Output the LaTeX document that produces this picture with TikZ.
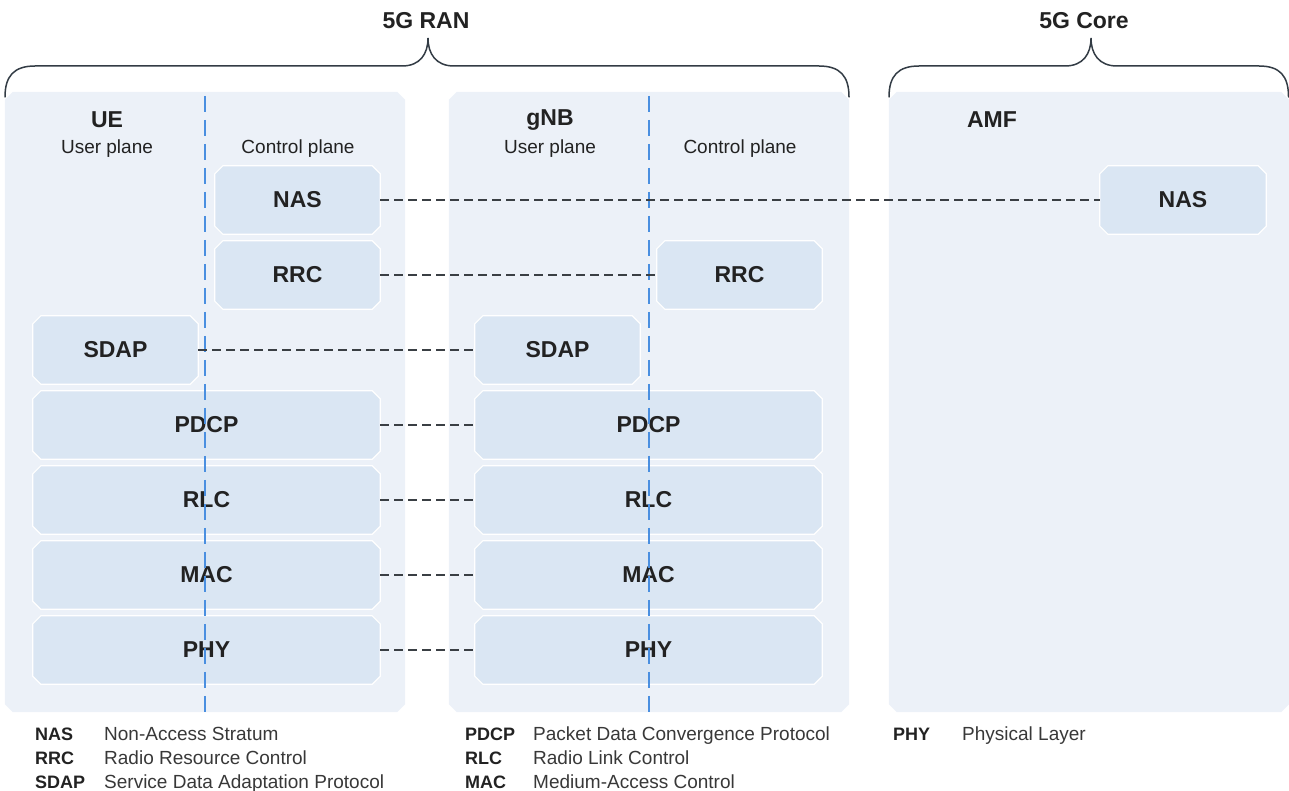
\documentclass[tikz,border=0pt]{standalone}
\usepackage{fontspec}
\setmainfont{Liberation Sans}

\definecolor{panelfill}{HTML}{ECF1F8}
\definecolor{layerfill}{HTML}{DAE6F3}
\definecolor{planeblue}{HTML}{4A8FE0}
\definecolor{inkdark}{HTML}{222222}
\definecolor{linkgray}{HTML}{3A3F44}
\definecolor{bracegray}{HTML}{333C45}

\pgfdeclarelayer{panelbg}
\pgfdeclarelayer{layerbg}
\pgfsetlayers{panelbg,layerbg,main}

\tikzset{
  panel/.style={rectangle, draw=none, fill=none,
    inner sep=0pt, minimum width=400pt, minimum height=620pt},
  layer/.style={rectangle, draw=none, fill=none,
    inner sep=0pt, minimum height=68pt,
    text=inkdark, font=\bfseries\fontsize{23}{27}\selectfont},
  narrow/.style={layer, minimum width=165pt},
  wide/.style={layer, minimum width=347pt},
  panelface/.style={fill=panelfill},
  layerface/.style={fill=layerfill, draw=white, line width=1.2pt},
  entity/.style={text=inkdark, font=\bfseries\fontsize{23}{27}\selectfont},
  planelabel/.style={text=inkdark, font=\fontsize{19}{23}\selectfont},
  planesep/.style={draw=planeblue, line width=1.4pt, dash pattern=on 16pt off 8pt},
  peer/.style={draw=linkgray, line width=1.4pt, dash pattern=on 9pt off 5pt},
  brace/.style={draw=bracegray, line width=1.5pt, line cap=round},
  domainlabel/.style={text=inkdark, font=\bfseries\fontsize{23}{27}\selectfont},
  abbr/.style={anchor=base west, inner sep=0pt, text=inkdark,
    font=\bfseries\fontsize{18}{22}\selectfont},
  expl/.style={anchor=base west, inner sep=0pt, text=inkdark!90,
    font=\fontsize{19}{23}\selectfont}
}

\begin{document}
\begin{tikzpicture}[x=1pt, y=-1pt]
\useasboundingbox (0,0) rectangle (1289,791);

% panels of the three network elements
\node[panel] (ue)  at (205,402) {};
\node[panel] (gnb) at (649,402) {};
\node[panel] (amf) at (1089,402) {};

% element names and plane headings
\node[entity] (ueName) at (107,120) {UE};
\node[planelabel] (ueUser) at (107,149) {User plane};
\node[planelabel] (ueCtrl) at (298,149) {Control plane};
\node[entity] (gnbName) at (550,120) {gNB};
\node[planelabel] (gnbUser) at (550,149) {User plane};
\node[planelabel] (gnbCtrl) at (740,149) {Control plane};
\node[entity] (amfName) at (992,120) {AMF};

% UE protocol stack
\node[narrow] (ueNAS)  at (297.5,200) {NAS};
\node[narrow] (ueRRC)  at (297.5,275) {RRC};
\node[narrow] (ueSDAP) at (115.5,350) {SDAP};
\node[wide]   (uePDCP) at (206.5,425) {PDCP};
\node[wide]   (ueRLC)  at (206.5,500) {RLC};
\node[wide]   (ueMAC)  at (206.5,575) {MAC};
\node[wide]   (uePHY)  at (206.5,650) {PHY};

% gNB protocol stack
\node[narrow] (gRRC)  at (739.5,275) {RRC};
\node[narrow] (gSDAP) at (557.5,350) {SDAP};
\node[wide]   (gPDCP) at (648.5,425) {PDCP};
\node[wide]   (gRLC)  at (648.5,500) {RLC};
\node[wide]   (gMAC)  at (648.5,575) {MAC};
\node[wide]   (gPHY)  at (648.5,650) {PHY};

% AMF
\node[narrow, minimum width=166pt] (aNAS) at (1183,200) {NAS};

% chamfered faces behind the nodes
\begin{pgfonlayer}{panelbg}
  \foreach \n in {ue,gnb,amf}
    \path[panelface] ([xshift=8pt]\n.north west) -- ([xshift=-8pt]\n.north east)
      -- ([yshift=-8pt]\n.north east) -- ([yshift=8pt]\n.south east)
      -- ([xshift=-8pt]\n.south east) -- ([xshift=8pt]\n.south west)
      -- ([yshift=8pt]\n.south west) -- ([yshift=-8pt]\n.north west) -- cycle;
\end{pgfonlayer}
\begin{pgfonlayer}{layerbg}
  \foreach \n in {ueNAS,ueRRC,ueSDAP,uePDCP,ueRLC,ueMAC,uePHY,
                  gRRC,gSDAP,gPDCP,gRLC,gMAC,gPHY,aNAS}
    \path[layerface] ([xshift=8pt]\n.north west) -- ([xshift=-8pt]\n.north east)
      -- ([yshift=-8pt]\n.north east) -- ([yshift=8pt]\n.south east)
      -- ([xshift=-8pt]\n.south east) -- ([xshift=8pt]\n.south west)
      -- ([yshift=8pt]\n.south west) -- ([yshift=-8pt]\n.north west) -- cycle;
\end{pgfonlayer}

% user/control plane separators
\draw[planesep] ([yshift=-4pt]ue.north) -- (ue.south);
\draw[planesep] ([yshift=-4pt]gnb.north) -- (gnb.south);

% peer-to-peer links
\draw[peer] (ueNAS.east)  -- (aNAS.west);
\draw[peer] (ueRRC.east)  -- (gRRC.west);
\draw[peer] (ueSDAP.east) -- (gSDAP.west);
\draw[peer] (uePDCP.east) -- (gPDCP.west);
\draw[peer] (ueRLC.east)  -- (gRLC.west);
\draw[peer] (ueMAC.east)  -- (gMAC.west);
\draw[peer] (uePHY.east)  -- (gPHY.west);

% braces
\draw[brace] (5,97) .. controls (5,76) and (14,66) .. (35,66)
  -- (402,66) .. controls (420,66) and (428,54) .. (428,38)
  .. controls (428,54) and (436,66) .. (454,66)
  -- (819,66) .. controls (840,66) and (849,76) .. (849,97);
\draw[brace] (889,97) .. controls (889,76) and (898,66) .. (919,66)
  -- (1065,66) .. controls (1083,66) and (1091,54) .. (1091,38)
  .. controls (1091,54) and (1099,66) .. (1117,66)
  -- (1259,66) .. controls (1280,66) and (1288.5,76) .. (1288.5,97);
\node[domainlabel] (ran)  at (426,21)  {5G RAN};
\node[domainlabel] (core) at (1084,21) {5G Core};

% legend
\node[abbr] (lNAS)  at (35,740) {NAS};
\node[expl] (dNAS)  at (104,740) {Non-Access Stratum};
\node[abbr] (lRRC)  at (35,764) {RRC};
\node[expl] (dRRC)  at (104,764) {Radio Resource Control};
\node[abbr] (lSDAP) at (35,788) {SDAP};
\node[expl] (dSDAP) at (104,788) {Service Data Adaptation Protocol};
\node[abbr] (lPDCP) at (465,740) {PDCP};
\node[expl] (dPDCP) at (533,740) {Packet Data Convergence Protocol};
\node[abbr] (lRLC)  at (465,764) {RLC};
\node[expl] (dRLC)  at (533,764) {Radio Link Control};
\node[abbr] (lMAC)  at (465,788) {MAC};
\node[expl] (dMAC)  at (533,788) {Medium-Access Control};
\node[abbr] (lPHY)  at (893,740) {PHY};
\node[expl] (dPHY)  at (962,740) {Physical Layer};
\end{tikzpicture}
\end{document}
